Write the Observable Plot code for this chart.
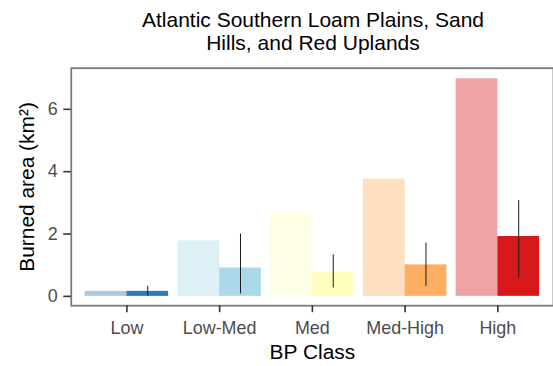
<!DOCTYPE html>
<html>
<head>
<meta charset="utf-8">
<script src="https://cdn.jsdelivr.net/npm/d3@7"></script>
<script src="https://cdn.jsdelivr.net/npm/@observablehq/plot@0.6"></script>
<style>
  html, body { margin: 0; padding: 0; background: #fff; overflow: hidden; }
  #wrap { width: 553px; height: 366px; overflow: hidden; position: relative; font-family: "Liberation Sans", Arial, sans-serif; }
  #title { position: absolute; left: 71px; top: 0; width: 484px; height: 60px; box-sizing: border-box;
           padding-top: 7.7px; text-align: center; font-size: 21px; line-height: 23.3px; color: #000; }
  #chart { position: absolute; left: 0; top: 60px; }
</style>
</head>
<body>
<div id="wrap">
  <div id="title">Atlantic Southern Loam Plains, Sand<br>Hills, and Red Uplands</div>
  <div id="chart"></div>
</div>
<script>
const categories = ["Low", "Low-Med", "Med", "Med-High", "High"];
const expectedArea = [0.16, 1.78, 2.71, 3.76, 6.98];
const observedArea = [0.16, 0.91, 0.77, 1.01, 1.92];
const observedLow = [0.0, 0.08, 0.27, 0.32, 0.57];
const observedHigh = [0.32, 2.0, 1.33, 1.71, 3.07];
const classColors = ["#2c7bb6", "#abd9e9", "#ffffbf", "#fdae61", "#d7191c"];
const yTicks = [0, 2, 4, 6];

const rows = categories.map((c, i) => ({
  cls: c, pos: i + 1, expected: expectedArea[i], observed: observedArea[i],
  lo: observedLow[i], hi: observedHigh[i], color: classColors[i]
}));

const half = 0.45; // half of the dodged group width, in category units

const plot = Plot.plot({
  width: 555,
  height: 306,
  marginLeft: 71,
  marginRight: 0,
  marginTop: 7.7,
  marginBottom: 59.9,
  style: { fontFamily: "Liberation Sans, Arial, sans-serif", fontSize: "18px", background: "#fff" },
  x: { type: "linear", domain: [0.4, 5.6], axis: null },
  y: { domain: [-0.3, 7.32], axis: null },
  color: { type: "identity" },
  marks: [
    Plot.rect(rows, { x1: d => d.pos - half, x2: d => d.pos, y1: () => 0, y2: "expected", fill: "color", fillOpacity: 0.4 }),
    Plot.rect(rows, { x1: d => d.pos, x2: d => d.pos + half, y1: () => 0, y2: "observed", fill: "color" }),
    Plot.ruleX(rows, { x: d => d.pos + half / 2, y1: "lo", y2: "hi", stroke: "#1a1a1a", strokeWidth: 1 }),
    Plot.frame({ stroke: "#7a7a7a", strokeWidth: 1.8 }),
    Plot.axisX(rows.map(d => d.pos), { ticks: rows.map(d => d.pos), tickFormat: p => categories[p - 1], tickSize: 7, tickPadding: 9, stroke: "#333", fill: "#4d4d4d", strokeWidth: 1.6, label: null }),
    Plot.axisY(yTicks, { ticks: yTicks, tickSize: 7.5, tickPadding: 6, stroke: "#333", fill: "#4d4d4d", strokeWidth: 1.6, label: null }),
    Plot.text(["Burned area (km²)"], { frameAnchor: "left", textAnchor: "middle", lineAnchor: "middle", rotate: -90, dx: -44.4, fontSize: 21, fill: "#000" }),
    Plot.text(["BP Class"], { frameAnchor: "bottom", textAnchor: "middle", lineAnchor: "middle", dy: 47.2, fontSize: 21, fill: "#000" })
  ]
});
document.getElementById("chart").appendChild(plot);
</script>
</body>
</html>
